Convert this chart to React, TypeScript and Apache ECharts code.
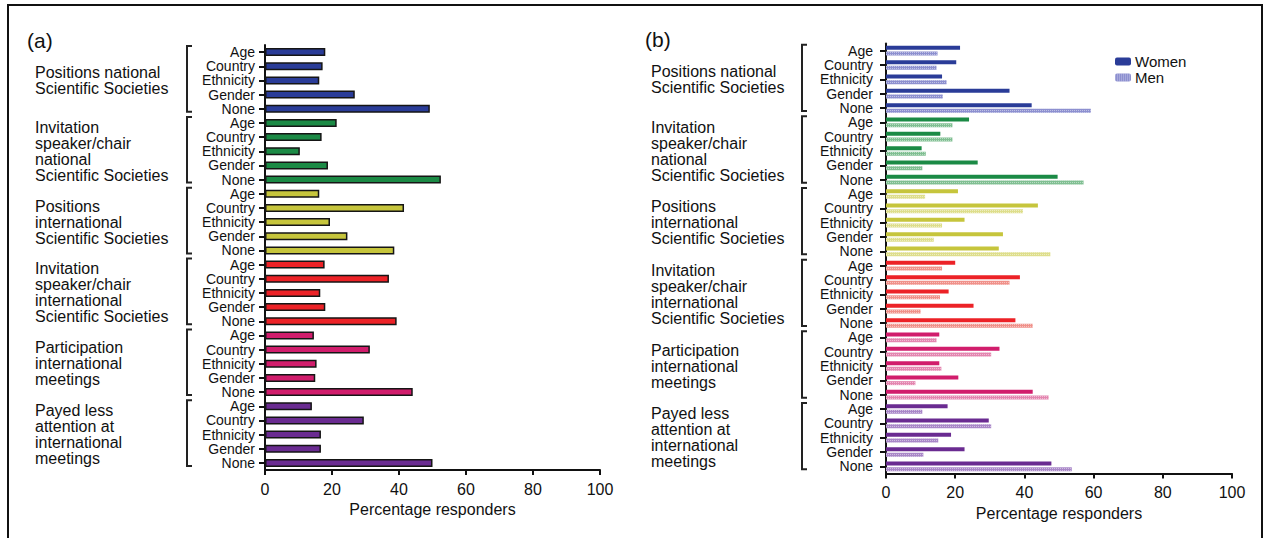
import React, { useEffect, useRef } from "react";
import * as echarts from "echarts";

const CATS = ["Age", "Country", "Ethnicity", "Gender", "None"];
const GROUPS = [
  "Positions national\nScientific Societies",
  "Invitation\nspeaker/chair\nnational\nScientific Societies",
  "Positions\ninternational\nScientific Societies",
  "Invitation\nspeaker/chair\ninternational\nScientific Societies",
  "Participation\ninternational\nmeetings",
  "Payed less\nattention at\ninternational\nmeetings",
];
const GROUP_COLORS = ["#2a3c98", "#1b8a45", "#c6c53c", "#ec2227", "#d11d6c", "#6a2b91"];
const MEN_COLORS = ["#8d90d0", "#80bf92", "#dede8c", "#f0918a", "#e486b0", "#a987c8"];

// Panel (a): all responders
const ALL_VALUES = [
  18.0, 17.2, 16.2, 26.8, 49.2,
  21.4, 16.9, 10.4, 18.8, 52.5,
  16.2, 41.5, 19.4, 24.6, 38.6,
  17.8, 37.0, 16.5, 18.0, 39.3,
  14.6, 31.3, 15.4, 15.0, 44.1,
  14.0, 29.5, 16.7, 16.7, 50.0,
];
// Panel (b): women vs men
const WOMEN_VALUES = [
  21.4, 20.3, 16.2, 35.7, 42.1,
  24.0, 15.7, 10.3, 26.5, 49.6,
  20.8, 43.9, 22.7, 33.8, 32.6,
  20.0, 38.7, 18.1, 25.3, 37.4,
  15.4, 32.8, 15.4, 20.9, 42.4,
  17.8, 29.7, 18.8, 22.7, 47.8,
];
const MEN_VALUES = [
  14.9, 14.6, 17.5, 16.4, 59.2,
  19.2, 19.2, 11.5, 10.5, 57.1,
  11.3, 39.6, 16.2, 13.8, 47.5,
  16.2, 35.7, 15.6, 10.0, 42.4,
  14.6, 30.4, 16.0, 8.5, 47.0,
  10.5, 30.4, 15.1, 10.8, 53.7,
];
const X_TICKS = [0, 20, 40, 60, 80, 100];

const FONT = "'Liberation Sans', Arial, Helvetica, sans-serif";

const CAT_IDS: string[] = [];
GROUPS.forEach((_, g) => CATS.forEach((c) => CAT_IDS.push(`${g}|${c}`)));

const GA = { left: 265, top: 45, width: 335, height: 425 };
const GB = { left: 886, top: 43.5, width: 346, height: 430 };

function App() {
  const ref = useRef<HTMLDivElement>(null);
  useEffect(() => {
    if (!ref.current) return;
    const chart = echarts.init(ref.current, undefined, { renderer: "svg" });

    const xAxisBase = (gridIndex: number) => ({
      type: "value",
      gridIndex,
      min: X_TICKS[0],
      max: X_TICKS[X_TICKS.length - 1],
      interval: 20,
      splitLine: { show: false },
      axisLine: { show: true, lineStyle: { color: "#111", width: 2 } },
      axisTick: { show: true, length: 5, lineStyle: { color: "#111", width: 2 } },
      axisLabel: { color: "#111", fontSize: 16, fontFamily: FONT, margin: 11 },
      name: "Percentage responders",
      nameLocation: "middle",
      nameGap: 24,
      nameTextStyle: { color: "#111", fontSize: 16, fontFamily: FONT },
    });
    const yAxisBase = (gridIndex: number, margin: number) => ({
      type: "category",
      gridIndex,
      inverse: true,
      data: CAT_IDS,
      axisLine: { show: true, lineStyle: { color: "#111", width: 2 } },
      axisTick: { show: true, alignWithLabel: true, length: 6, lineStyle: { color: "#111", width: 2 } },
      axisLabel: {
        interval: 0,
        color: "#111",
        fontSize: 14,
        lineHeight: 13,
        fontFamily: FONT,
        margin,
        formatter: (v: string) => v.split("|")[1],
      },
    });

    const graphics: any[] = [];
    // frame
    graphics.push({
      type: "polyline",
      shape: { points: [[8, 560], [8, 5], [1262, 5], [1262, 560]] },
      style: { stroke: "#111", lineWidth: 2, fill: null },
    });
    graphics.push({
      type: "text", x: 27, y: 40,
      style: { text: "(a)", fontSize: 21, fontFamily: FONT, fill: "#111", verticalAlign: "middle" },
    });
    graphics.push({
      type: "text", x: 645, y: 39,
      style: { text: "(b)", fontSize: 21, fontFamily: FONT, fill: "#111", verticalAlign: "middle" },
    });
    const addGroups = (grid: any, textX: number, bracketX: number) => {
      const band = grid.height / CAT_IDS.length;
      GROUPS.forEach((label, g) => {
        const first = grid.top + (g * 5 + 0.5) * band;
        const last = grid.top + (g * 5 + 4.5) * band;
        const mid = (first + last) / 2;
        graphics.push({
          type: "text", x: textX, y: mid,
          style: {
            text: label, fontSize: 16, lineHeight: 16, fontFamily: FONT, fill: "#111",
            verticalAlign: "middle", align: "left",
          },
        });
        const yT = first - 6;
        const yB = last + 3;
        graphics.push({
          type: "polyline",
          shape: { points: [[bracketX + 5, yT], [bracketX, yT], [bracketX, yB], [bracketX + 5, yB]] },
          style: { stroke: "#222", lineWidth: 2, fill: null },
        });
      });
    };
    addGroups(GA, 35, 187);
    addGroups(GB, 651, 802);

    const colorOf = (i: number) => GROUP_COLORS[Math.floor(i / 5)];
    const menColorOf = (i: number) => MEN_COLORS[Math.floor(i / 5)];

    chart.setOption({
      animation: false,
      backgroundColor: "#fff",
      textStyle: { fontFamily: FONT },
      grid: [
        { ...GA, containLabel: false },
        { ...GB, containLabel: false },
      ],
      xAxis: [xAxisBase(0), xAxisBase(1)],
      yAxis: [yAxisBase(0, 10), yAxisBase(1, 13)],
      legend: {
        show: true,
        orient: "vertical",
        left: 1115,
        top: 54,
        padding: 0,
        itemGap: 1,
        itemWidth: 16,
        itemHeight: 8,
        data: ["Women", "Men"],
        textStyle: { color: "#111", fontSize: 15, fontFamily: FONT, padding: [0, 0, 0, -1] },
      },
      series: [
        {
          name: "All",
          type: "bar",
          xAxisIndex: 0,
          yAxisIndex: 0,
          barWidth: 8,
          data: ALL_VALUES.map((v, i) => ({
            value: v,
            itemStyle: { color: colorOf(i), borderColor: "#151515", borderWidth: 1.5 },
          })),
        },
        {
          name: "Women",
          type: "bar",
          xAxisIndex: 1,
          yAxisIndex: 1,
          barWidth: 4,
          barGap: "40%",
          itemStyle: { color: GROUP_COLORS[0] },
          data: WOMEN_VALUES.map((v, i) => ({ value: v, itemStyle: { color: colorOf(i) } })),
        },
        {
          name: "Men",
          type: "bar",
          xAxisIndex: 1,
          yAxisIndex: 1,
          barWidth: 4,
          barGap: "40%",
          itemStyle: {
            color: MEN_COLORS[0],
            decal: {
              symbol: "rect",
              symbolSize: 1,
              color: "rgba(255,255,255,0.45)",
              dashArrayX: [1, 1],
              dashArrayY: [1, 1],
              rotation: 0,
            },
          },
          data: MEN_VALUES.map((v, i) => ({ value: v, itemStyle: { color: menColorOf(i) } })),
        },
      ],
      graphic: graphics,
    });
    return () => chart.dispose();
  }, []);
  return (
    <div
      ref={ref}
      style={{ position: "fixed", left: 0, top: 0, width: 1266, height: 538, background: "#fff" }}
    />
  );
}

export default App;
